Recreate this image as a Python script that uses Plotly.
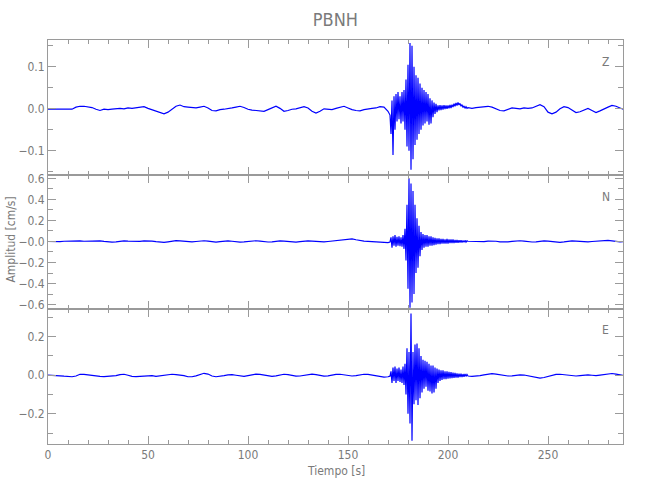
import numpy as np
import plotly.graph_objects as go
from plotly.subplots import make_subplots

# ---- sampling grids (seconds) ----
t_pre = np.arange(0, 171, 2)        # 0 .. 170
t_evt = np.arange(171, 210, 0.5)    # 171 .. 209.5
t_post = np.arange(210, 289, 2)     # 210 .. 288

# ---- Z component (cm/s) ----
z_pre = [-0.001, -0.001, -0.002, -0.002, -0.001, -0.002, -0.001, 0.004, 0.006, 0.006,
         0.005, 0.003, -0.001, -0.004, -0.001, -0.002, -0.001, 0.0, 0.001, 0.0,
         0.002, 0.001, 0.002, 0.003, 0.005, 0.001, -0.002, -0.005, -0.009, -0.012,
         -0.008, 0.0, 0.006, 0.009, 0.005, 0.004, 0.003, 0.002, 0.004, 0.006,
         0.002, -0.004, -0.005, -0.002, -0.001, 0.0, 0.002, 0.004, 0.006, 0.003,
         -0.001, -0.003, -0.004, -0.005, -0.006, -0.002, 0.003, 0.006, 0.001, -0.006,
         -0.004, -0.001, 0.0, 0.003, 0.005, 0.002, -0.006, -0.010, -0.006, 0.0,
         -0.001, -0.002, 0.001, 0.004, 0.006, 0.002, -0.002, -0.004, -0.005, -0.002,
         0.0, 0.001, 0.002, 0.005, 0.004, -0.006]
z_evt = [-0.015, -0.06, 0.02, -0.11, 0.03, -0.05, 0.035, -0.03, 0.04, -0.025,
         0.03, -0.035, 0.04, -0.03, 0.045, -0.05, 0.07, -0.09, 0.105, -0.10,
         0.157, -0.145, 0.15, -0.12, 0.10, -0.086, 0.08, -0.074, 0.074, -0.06,
         0.06, -0.05, 0.05, -0.04, 0.045, -0.035, 0.04, -0.03, 0.035, -0.038,
         0.025, -0.035, 0.02, -0.02, 0.015, -0.012, 0.012, -0.008, 0.008, -0.004,
         0.009, -0.003, 0.008, -0.002, 0.009, -0.001, 0.008, 0.0, 0.008, 0.001,
         0.009, 0.002, 0.010, 0.004, 0.012, 0.006, 0.014, 0.008, 0.015, 0.009,
         0.013, 0.006, 0.010, 0.003, 0.007, 0.001, 0.005, 0.001]
z_post = [0.003, 0.001, 0.003, 0.004, 0.005, 0.006, 0.004, 0.0, -0.004, -0.005,
          -0.001, 0.002, 0.001, 0.0, 0.002, 0.001, 0.002, 0.006, 0.010, 0.005,
          -0.008, -0.012, -0.008, 0.0, 0.005, 0.003, -0.004, -0.009, -0.007, -0.002,
          0.001, -0.004, -0.009, -0.005, 0.0, 0.004, 0.008, 0.006, 0.002, -0.002]

# ---- N component (cm/s) ----
n_pre = [0.0, -0.003, -0.005, -0.002, 0.002, 0.004, 0.006, 0.008, 0.005, 0.002,
         0.004, 0.008, 0.010, 0.006, 0.001, -0.004, -0.006, -0.003, 0.002, 0.005,
         0.003, 0.0, -0.003, 0.001, 0.006, 0.008, 0.004, -0.002, -0.006, -0.008,
         -0.003, 0.004, 0.008, 0.006, 0.002, -0.002, -0.004, 0.0, 0.005, 0.007,
         0.003, -0.004, -0.006, -0.002, 0.003, 0.005, 0.002, -0.003, -0.006, -0.004,
         0.001, 0.005, 0.007, 0.003, -0.002, -0.005, -0.003, 0.002, 0.006, 0.004,
         0.0, -0.004, -0.006, -0.002, 0.003, 0.006, 0.004, -0.001, -0.005, -0.004,
         0.0, 0.004, 0.006, 0.008, 0.012, 0.018, 0.025, 0.016, 0.008, 0.003,
         0.001, -0.002, -0.006, -0.010, -0.012, -0.010]
n_evt = [-0.005, 0.04, -0.06, 0.05, -0.04, 0.06, -0.05, 0.045, -0.04, 0.05,
         -0.045, 0.04, -0.05, 0.06, -0.07, 0.12, -0.18, 0.35, -0.45, 0.60,
         -0.63, 0.55, -0.58, 0.48, -0.50, 0.35, -0.30, 0.22, -0.25, 0.15,
         -0.14, 0.09, -0.08, 0.07, -0.06, 0.06, -0.05, 0.06, -0.05, 0.05,
         -0.04, 0.05, -0.04, 0.04, -0.035, 0.035, -0.03, 0.03, -0.025, 0.03,
         -0.025, 0.025, -0.02, 0.025, -0.02, 0.02, -0.02, 0.025, -0.02, 0.02,
         -0.015, 0.02, -0.015, 0.02, -0.015, 0.015, -0.012, 0.015, -0.012, 0.012,
         -0.01, 0.012, -0.01, 0.01, -0.008, 0.01, -0.006, 0.006]
n_post = [0.002, 0.0, -0.003, -0.005, -0.002, 0.003, 0.005, 0.002, -0.003, -0.006,
          -0.004, 0.001, 0.005, 0.007, 0.003, -0.002, -0.005, -0.003, 0.002, 0.006,
          0.004, -0.001, -0.006, -0.008, -0.004, 0.002, 0.006, 0.004, -0.001, -0.005,
          -0.004, 0.0, 0.004, 0.008, 0.012, 0.010, 0.005, 0.0, -0.004, -0.002]

# ---- E component (cm/s) ----
e_pre = [0.0, 0.0, -0.002, -0.003, -0.005, -0.008, -0.008, -0.004, 0.005, 0.004,
         0.001, -0.002, -0.003, -0.006, -0.007, -0.006, -0.005, -0.002, 0.003, 0.005,
         0.0, -0.006, -0.007, -0.005, -0.004, -0.003, -0.002, -0.006, -0.004, 0.0,
         0.003, 0.005, 0.003, 0.002, -0.002, -0.008, -0.008, -0.003, 0.004, 0.010,
         0.006, -0.004, -0.008, -0.006, -0.002, 0.002, 0.003, 0.0, -0.004, -0.006,
         -0.002, 0.003, 0.006, 0.004, 0.0, -0.004, -0.006, -0.003, 0.002, 0.005,
         0.003, -0.002, -0.005, -0.004, 0.0, 0.004, 0.006, 0.003, -0.002, -0.005,
         -0.003, 0.001, 0.004, 0.005, 0.002, -0.002, -0.004, -0.002, 0.002, 0.005,
         0.004, 0.0, -0.005, -0.008, -0.010, -0.008]
e_evt = [-0.005, 0.02, -0.04, 0.04, -0.03, 0.045, -0.04, 0.035, -0.03, 0.04,
         -0.035, 0.03, -0.04, 0.045, -0.05, 0.06, -0.10, 0.14, -0.2, 0.12,
         -0.25, 0.32, -0.34, 0.12, -0.15, 0.16, -0.13, 0.165, -0.155, 0.14,
         -0.12, 0.10, -0.09, 0.08, -0.07, 0.075, -0.06, 0.07, -0.08, 0.06,
         -0.085, 0.05, -0.095, 0.05, -0.09, 0.04, -0.07, 0.035, -0.04, 0.03,
         -0.03, 0.025, -0.025, 0.025, -0.02, 0.02, -0.02, 0.02, -0.018, 0.018,
         -0.016, 0.016, -0.015, 0.014, -0.014, 0.012, -0.012, 0.01, -0.012, 0.008,
         -0.01, 0.008, -0.01, 0.006, -0.008, 0.006, -0.006, 0.004]
e_post = [-0.004, -0.006, -0.005, -0.002, 0.002, 0.006, 0.008, 0.006, 0.002, -0.002,
          -0.004, -0.003, 0.0, 0.002, 0.001, -0.003, -0.008, -0.013, -0.015, -0.012,
          -0.006, 0.0, 0.004, 0.005, 0.003, 0.0, -0.003, -0.004, -0.002, 0.001,
          0.002, 0.0, -0.002, 0.001, 0.005, 0.008, 0.009, 0.006, 0.002, -0.001]

components = ["Z", "N", "E"]
title_text = "PBNH"
x_title = "Tiempo [s]"
y_title = "Amplitud [cm/s]"

t_all = np.concatenate([t_pre, t_evt, t_post])
series = [z_pre + z_evt + z_post, n_pre + n_evt + n_post, e_pre + e_evt + e_post]

FONT = "Liberation Sans Narrow, DejaVu Sans Condensed, Liberation Sans, sans-serif"
AX = "#9a9a9a"
TXT = "#7a7a7a"

fig = make_subplots(rows=3, cols=1, shared_xaxes=True, vertical_spacing=0)
for i, vals in enumerate(series):
    fig.add_trace(go.Scatter(x=t_all, y=vals, mode="lines",
                             line=dict(color="#0000ff", width=1.2),
                             showlegend=False, hoverinfo="skip"),
                  row=i + 1, col=1)

common = dict(showline=True, linecolor=AX, linewidth=1, mirror="allticks",
              ticks="inside", ticklen=8, tickcolor=AX, showgrid=False,
              zeroline=False, automargin=False,
              tickfont=dict(color=TXT, size=12, family=FONT))

xminor = dict(ticks="inside", tickvals=list(range(0, 290, 10)), ticklen=4,
              tickcolor=AX, showgrid=False)
for r in (1, 2, 3):
    fig.update_xaxes(range=[0, 287.5], tickvals=[0, 50, 100, 150, 200, 250],
                     ticktext=["0", "50", "100", "150", "200", "250"],
                     minor=xminor, showticklabels=(r == 3), row=r, col=1, **common)

y_specs = [
    dict(range=[-0.157, 0.164], tickvals=[-0.1, 0.0, 0.1], ticktext=["−0.1", "0.0", "0.1"],
         minor=[-0.15, -0.05, 0.05, 0.15]),
    dict(range=[-0.645, 0.635], tickvals=[-0.6, -0.4, -0.2, 0.0, 0.2, 0.4, 0.6],
         ticktext=["−0.6", "−0.4", "−0.2", "−0.0", "0.2", "0.4", "0.6"],
         minor=[-0.5, -0.3, -0.1, 0.1, 0.3, 0.5]),
    dict(range=[-0.357, 0.342], tickvals=[-0.2, 0.0, 0.2], ticktext=["−0.2", "0.0", "0.2"],
         minor=[-0.3, -0.1, 0.1, 0.3]),
]
for r, s in enumerate(y_specs, start=1):
    fig.update_yaxes(range=s["range"], tickvals=s["tickvals"], ticktext=s["ticktext"],
                     minor=dict(ticks="inside", tickvals=s["minor"], ticklen=5,
                                tickcolor=AX, showgrid=False),
                     row=r, col=1, **common)

annotations = [
    dict(text=x_title, x=0.5, y=-0.068, xref="paper", yref="paper",
         xanchor="center", yanchor="middle",
         showarrow=False, font=dict(color=TXT, size=12, family=FONT)),
    dict(text=y_title, x=-0.065, y=0.505, xref="paper", yref="paper", textangle=-90,
         xanchor="center", yanchor="middle",
         showarrow=False, font=dict(color=TXT, size=12, family=FONT)),
]
label_y = [0.946, 0.611, 0.282]
for c, yy in zip(components, label_y):
    annotations.append(dict(text=c, x=0.97, y=yy, xref="paper", yref="paper",
                            xanchor="center", yanchor="middle",
                            showarrow=False, font=dict(color=TXT, size=12, family=FONT)))

fig.update_layout(
    width=650, height=500,
    margin=dict(l=48, r=27, t=40, b=56),
    paper_bgcolor="white", plot_bgcolor="white",
    title=dict(text=title_text, x=0.516, xanchor="center", y=0.96, yanchor="middle",
               font=dict(color=TXT, size=18, family=FONT)),
    annotations=annotations,
)

fig.write_html("out.html", config={"displayModeBar": False},
               post_script="document.body.style.margin='0';")
